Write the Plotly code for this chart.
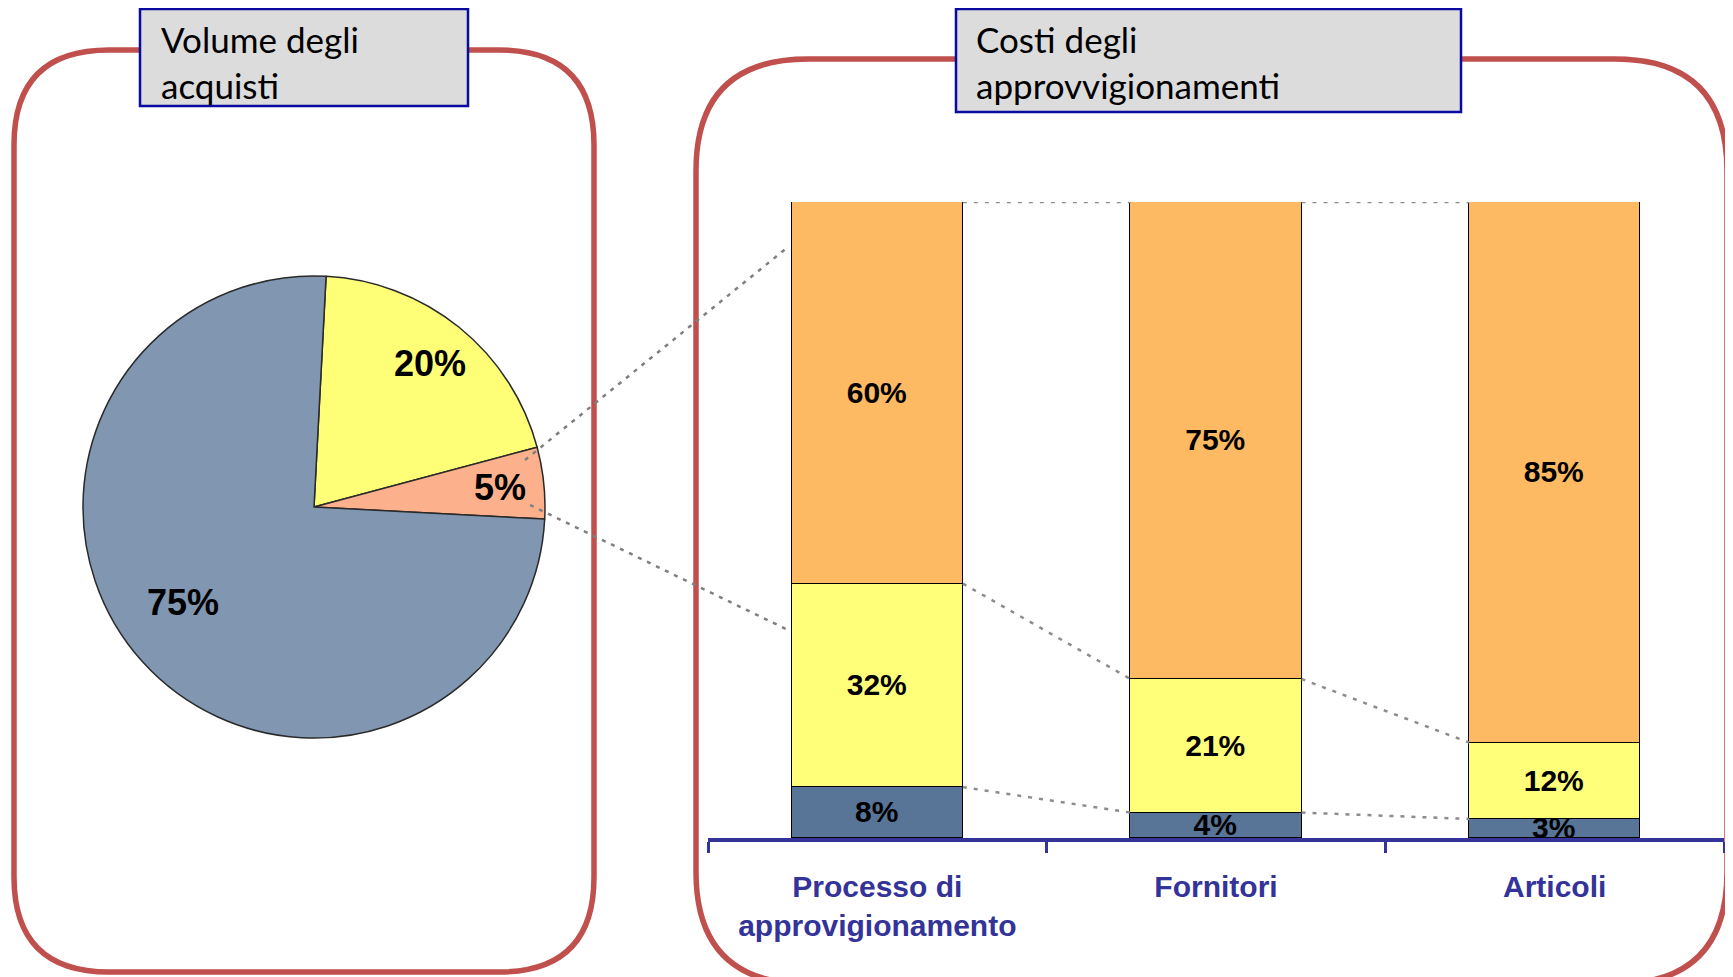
import math
import plotly.graph_objects as go

# ---------------- data ----------------
pie_labels = ["Segmento A", "Segmento B", "Segmento C"]
pie_values = [20, 5, 75]
pie_text = ["20%", "5%", "75%"]

categories = ["Processo di<br>approvigionamento", "Fornitori", "Articoli"]
cat_pos = [0, 1, 2]
costi_blu = [8, 4, 3]
costi_giallo = [32, 21, 12]
costi_arancio = [60, 75, 85]

title_left = "Volume degli<br>acquisti"
title_right = "Costi degli<br>approvvigionamenti"

# ---------------- geometry helpers ----------------
W, H = 1733, 977
OFF = 8  # page body margin


def px(x):
    return (x - OFF) / W


def py(y):
    return 1 - (y - OFF) / H


def rounded_path(x0, y0, x1, y1, r):
    pts = [
        ("M", (x0 + r, y0)), ("L", (x1 - r, y0)), ("Q", (x1, y0), (x1, y0 + r)),
        ("L", (x1, y1 - r)), ("Q", (x1, y1), (x1 - r, y1)), ("L", (x0 + r, y1)),
        ("Q", (x0, y1), (x0, y1 - r)), ("L", (x0, y0 + r)), ("Q", (x0, y0), (x0 + r, y0)),
    ]
    s = ""
    for p in pts:
        cmd = p[0]
        coords = " ".join(f"{px(a):.5f},{py(b):.5f}" for a, b in p[1:])
        s += f"{cmd} {coords} "
    return s + "Z"


RED = "#C0504D"
NAVY = "#333399"
BOXBLUE = "#0A0AA0"

fig = go.Figure()

# ---------------- pie ----------------
cx, cy, R = 314, 507, 231
fig.add_trace(go.Pie(
    labels=pie_labels, values=pie_values, sort=False, direction="clockwise",
    rotation=3, textinfo="none", hoverinfo="label+percent",
    marker=dict(colors=["#FFFF77", "#FDB08C", "#8197B1"],
                line=dict(color="#2A2A2A", width=1.5)),
    domain=dict(x=[px(cx - R), px(cx + R)], y=[py(cy + R), py(cy - R)]),
    showlegend=False,
))

label_frac = [0.80, 0.81, 0.70]
label_shift_deg = [0, 0, 6]
cum = 0
tot = sum(pie_values)
for v, t, f, d in zip(pie_values, pie_text, label_frac, label_shift_deg):
    theta = math.radians(3 + 360 * (cum + v / 2) / tot + d)
    lx = cx + R * f * math.sin(theta)
    ly = cy - R * f * math.cos(theta)
    fig.add_annotation(x=px(lx), y=py(ly), xref="paper", yref="paper", text=t,
                       showarrow=False, xanchor="center", yanchor="middle",
                       font=dict(family="Liberation Sans, Arial, sans-serif", size=36,
                                 color="black", weight="bold"))
    cum += v

# ---------------- stacked bars ----------------
bw = 0.505
bar_font = dict(family="Liberation Sans, Arial, sans-serif", size=30, color="black", weight="bold")
for vals, col in [(costi_blu, "#587496"), (costi_giallo, "#FFFF7A"), (costi_arancio, "#FDBA62")]:
    fig.add_trace(go.Bar(
        x=cat_pos, y=vals, width=bw, text=[f"{v}%" for v in vals],
        textposition="inside", insidetextanchor="middle", constraintext="none",
        textangle=0, textfont=bar_font,
        marker=dict(color=col, line=dict(color="black", width=1.5)),
        showlegend=False, hoverinfo="y",
    ))

# dotted connectors between bars (segment tops)
c1 = list(costi_blu)
c2 = [a + b for a, b in zip(costi_blu, costi_giallo)]
c3 = [a + b + c for a, b, c in zip(costi_blu, costi_giallo, costi_arancio)]
cx_list, cy_list = [], []
for lev in (c1, c2, c3):
    for i in range(len(cat_pos) - 1):
        cx_list += [cat_pos[i] + bw / 2, cat_pos[i + 1] - bw / 2, None]
        cy_list += [lev[i], lev[i + 1], None]
fig.add_trace(go.Scatter(x=cx_list, y=cy_list, mode="lines",
                         line=dict(color="#8C8C8C", width=2.5, dash="4px,7px"),
                         hoverinfo="skip", showlegend=False))

# ---------------- shapes ----------------
shapes = []
shapes.append(dict(type="path", path=rounded_path(14, 50, 594, 972, 95),
                   xref="paper", yref="paper", line=dict(color=RED, width=5.5), layer="below"))
shapes.append(dict(type="path", path=rounded_path(696, 59, 1727, 984, 112),
                   xref="paper", yref="paper", line=dict(color=RED, width=5.5), layer="below"))
for (x0, y0, x1, y1) in [(140, 9, 468, 106), (956, 9, 1461, 112)]:
    shapes.append(dict(type="rect", xref="paper", yref="paper",
                       x0=px(x0), x1=px(x1), y0=py(y1), y1=py(y0),
                       fillcolor="#DCDCDC", line=dict(color=BOXBLUE, width=2.5)))
for (x0, y0, x1, y1) in [(525, 460, 788, 247), (530, 505, 788, 630)]:
    shapes.append(dict(type="line", xref="paper", yref="paper",
                       x0=px(x0), y0=py(y0), x1=px(x1), y1=py(y1),
                       line=dict(color="#7F7F7F", width=2.5, dash="4px,6px")))

title_font = dict(family="Lato, Carlito, sans-serif", size=35, color="black")
fig.add_annotation(x=px(159), y=py(16), xref="paper", yref="paper", text=title_left,
                   showarrow=False, xanchor="left", yanchor="top", align="left", font=title_font)
fig.add_annotation(x=px(974), y=py(16), xref="paper", yref="paper", text=title_right,
                   showarrow=False, xanchor="left", yanchor="top", align="left", font=title_font)

fig.update_layout(
    width=W, height=H, margin=dict(l=0, r=0, t=0, b=0),
    paper_bgcolor="white", plot_bgcolor="rgba(0,0,0,0)",
    barmode="stack", bargap=0, shapes=shapes, showlegend=False,
    xaxis=dict(domain=[px(708), px(1724)], range=[-0.5, 2.5],
               tickmode="array", tickvals=cat_pos, ticktext=categories,
               ticks="", showgrid=False, zeroline=False,
               showline=True, linecolor=NAVY, linewidth=3.5,
               tickfont=dict(family="Liberation Sans, Arial, sans-serif", size=30,
                             color=NAVY, weight="bold"),
               ticklabelstandoff=19,
               minor=dict(ticks="outside", tick0=-0.5, dtick=1, ticklen=11,
                          tickwidth=3, tickcolor=NAVY, showgrid=False)),
    yaxis=dict(domain=[py(838), py(202)], range=[0, 100], visible=False),
)

fig.write_html("out.html")
